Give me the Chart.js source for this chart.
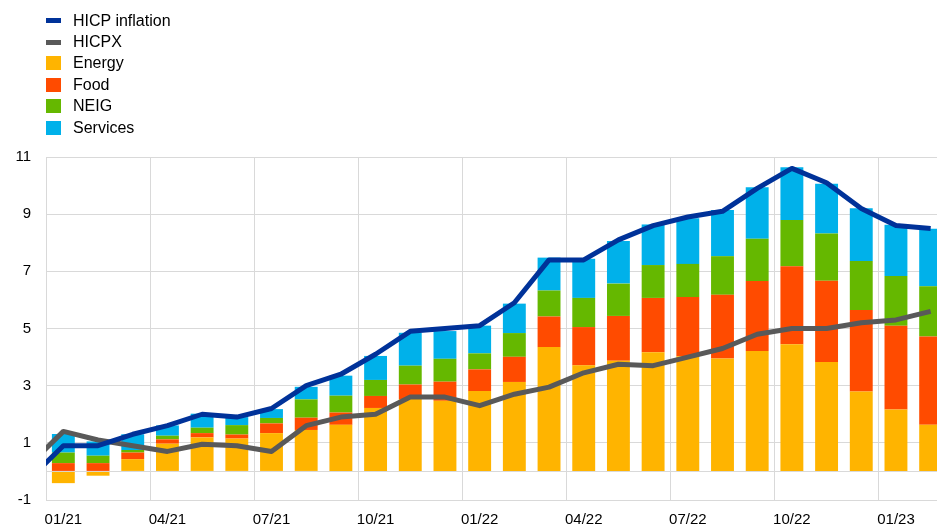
<!DOCTYPE html>
<html>
<head>
<meta charset="utf-8">
<script src="https://cdn.jsdelivr.net/npm/chart.js@4/dist/chart.umd.min.js"></script>
<style>
html, body {margin: 0; padding: 0; background: #fff; overflow: hidden;}
#wrap {position: relative; width: 950px; height: 526px;}
#legend {position: absolute; left: 46px; top: 10px; font-family: Arial, "Liberation Sans", sans-serif; font-size: 16px; color: #000;}
#legend .item {display: flex; align-items: center; height: 21.4px;}
#legend .box {width: 15px; margin-right: 12px;}
</style>
</head>
<body>
<div id="wrap">
	<div id="legend"></div>
	<canvas id="chart" width="950" height="526"></canvas>
</div>
<script>
// months (12/20 only carries the line start, it sits left of the visible axis)
var months = ['12/20',
	'01/21','02/21','03/21','04/21','05/21','06/21','07/21','08/21','09/21','10/21','11/21','12/21',
	'01/22','02/22','03/22','04/22','05/22','06/22','07/22','08/22','09/22','10/22','11/22','12/22',
	'01/23','02/23'];

// contributions, percentage points
var energy   = [null, -0.41, -0.15, 0.43, 0.97, 1.19, 1.15, 1.34, 1.45, 1.63, 2.22, 2.53, 2.47, 2.81, 3.13, 4.35, 3.71, 3.87, 4.17, 4.03, 3.95, 4.21, 4.45, 3.83, 2.80, 2.17, 1.63];
var food     = [null, 0.29, 0.29, 0.23, 0.15, 0.15, 0.14, 0.34, 0.43, 0.43, 0.42, 0.51, 0.67, 0.76, 0.88, 1.07, 1.34, 1.57, 1.90, 2.07, 2.23, 2.45, 2.73, 2.84, 2.85, 2.93, 3.09];
var neig     = [null, 0.37, 0.26, 0.09, 0.13, 0.19, 0.33, 0.19, 0.64, 0.59, 0.56, 0.66, 0.80, 0.56, 0.83, 0.91, 1.02, 1.13, 1.15, 1.16, 1.35, 1.48, 1.62, 1.65, 1.71, 1.74, 1.76];
var services = [null, 0.65, 0.50, 0.55, 0.36, 0.49, 0.28, 0.31, 0.44, 0.70, 0.84, 1.15, 0.97, 0.97, 1.03, 1.15, 1.37, 1.49, 1.42, 1.60, 1.62, 1.80, 1.84, 1.74, 1.85, 1.79, 2.01];

// annual rates, %
var hicp  = [-0.3, 0.9, 0.9, 1.3, 1.6, 2.0, 1.9, 2.2, 3.0, 3.4, 4.1, 4.9, 5.0, 5.1, 5.9, 7.4, 7.4, 8.1, 8.6, 8.9, 9.1, 9.9, 10.6, 10.1, 9.2, 8.6, 8.5];
var hicpx = [0.2, 1.4, 1.1, 0.9, 0.7, 0.95, 0.9, 0.7, 1.6, 1.9, 2.0, 2.6, 2.6, 2.3, 2.7, 2.95, 3.45, 3.75, 3.7, 4.0, 4.3, 4.8, 5.0, 5.0, 5.2, 5.3, 5.6];

var yTicks = [-1, 1, 3, 5, 7, 9, 11];

var FONT = 'Arial, "Liberation Sans", sans-serif';
var GRID = '#d9d9d9';

var series = [
	{label: 'HICP inflation', type: 'line', data: hicp,     color: '#003299', order: 0, width: 5},
	{label: 'HICPX',          type: 'line', data: hicpx,    color: '#595959', order: 1, width: 5},
	{label: 'Energy',         type: 'bar',  data: energy,   color: '#ffb400', order: 2},
	{label: 'Food',           type: 'bar',  data: food,     color: '#ff4b00', order: 2},
	{label: 'NEIG',           type: 'bar',  data: neig,     color: '#65b800', order: 2},
	{label: 'Services',       type: 'bar',  data: services, color: '#00b1ea', order: 2}
];

function isQuarterTick(label) {
	return ['01', '04', '07', '10'].indexOf(label.substr(0, 2)) >= 0;
}

// html legend, one row per series
var $legend = document.getElementById('legend');
series.forEach(function(s) {
	var row = document.createElement('div');
	row.className = 'item';
	var box = document.createElement('span');
	box.className = 'box';
	box.style.height = s.type == 'line' ? '5px' : '14px';
	box.style.background = s.color;
	var txt = document.createElement('span');
	txt.textContent = s.label;
	row.appendChild(box);
	row.appendChild(txt);
	$legend.appendChild(row);
});

var datasets = series.map(function(s) {
	if (s.type == 'line') {
		// own stack id so the lines are not added on top of each other
		return {
			type: 'line', label: s.label, data: s.data, order: s.order, stack: s.label,
			borderColor: s.color, backgroundColor: s.color, borderWidth: s.width,
			pointRadius: 0, tension: 0, clip: 0, borderJoinStyle: 'round'
		};
	}
	return {
		type: 'bar', label: s.label, data: s.data, order: s.order,
		backgroundColor: s.color, borderWidth: 0, stack: 'contrib',
		barPercentage: 0.66, categoryPercentage: 1
	};
});

var ctx = document.getElementById('chart').getContext('2d');
var chart = new Chart(ctx, {
	type: 'bar',
	data: {labels: months, datasets: datasets},
	options: {
		responsive: false,
		animation: false,
		layout: {padding: {top: 157, right: 2, left: 0, bottom: 0}},
		plugins: {legend: {display: false}, tooltip: {enabled: false}},
		scales: {
			x: {
				stacked: true,
				min: '01/21',
				max: '02/23',
				grid: {
					offset: true,
					drawTicks: false,
					lineWidth: 1,
					color: function(c) {
						if (!c.tick) {return 'rgba(0,0,0,0)';}
						return isQuarterTick(months[c.tick.value]) ? GRID : 'rgba(0,0,0,0)';
					}
				},
				border: {color: GRID},
				ticks: {
					autoSkip: false, maxRotation: 0, padding: 11,
					color: '#000', font: {family: FONT, size: 15},
					callback: function(value) {
						var lab = months[value];
						return isQuarterTick(lab) ? lab : '';
					}
				},
				afterFit: function(scale) {scale.height = 26;}
			},
			y: {
				stacked: true,
				min: -1, max: 11,
				grid: {color: GRID, drawTicks: false, lineWidth: 1},
				border: {display: false},
				ticks: {
					padding: 15, color: '#000', font: {family: FONT, size: 15},
					callback: function(value) {return value === 0 ? '' : String(value);}
				},
				afterBuildTicks: function(scale) {
					// odd ticks plus an unlabelled zero line
					scale.ticks = yTicks.concat([0]).sort(function(a, b) {return a - b;}).map(function(v) {return {value: v};});
				},
				afterFit: function(scale) {scale.width = 46;}
			}
		}
	}
});
</script>
</body>
</html>
